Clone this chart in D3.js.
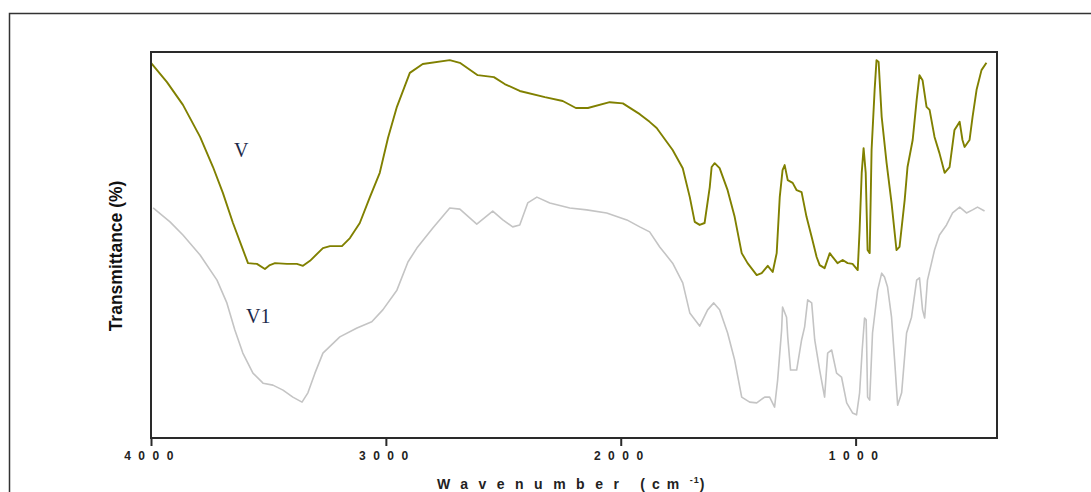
<!DOCTYPE html>
<html><head><meta charset="utf-8">
<script src="https://cdn.jsdelivr.net/npm/d3@7"></script>
<style>
body{margin:0;background:#fff;}
svg{display:block;}
</style></head>
<body>
<svg id="chart" width="1091" height="492"></svg>
<script>
// ---- data ----
const xTicks = [4000, 3000, 2000, 1000];
const seriesNames = ["V", "V1"];
const vWave = [4000,3932,3864,3791,3736,3694,3651,3613,3587,3549,3515,3494,3472,3421,3379,3353,3323,3268,3238,3187,3153,3111,3068,3026,2991,2953,2898,2843,2728,2685,2609,2540,2494,2430,2323,2247,2191,2140,2047,1991,1919,1877,1847,1779,1736,1706,1685,1664,1643,1621,1613,1600,1579,1545,1515,1485,1460,1421,1400,1374,1353,1336,1323,1311,1302,1289,1268,1251,1230,1209,1187,1166,1153,1132,1110,1098,1077,1055,1034,1013,991,983,974,966,957,949,940,932,919,911,902,889,868,847,826,813,791,779,757,740,728,715,698,685,664,643,621,600,579,557,545,536,515,502,485,464,443];
const vT = [97.2,92.2,86.3,78.0,70.2,63.5,55.7,49.5,45.3,45.1,43.8,44.8,45.3,45.1,45.1,44.6,45.9,49.2,49.7,49.7,51.8,55.7,62.4,68.7,77.7,85.8,94.6,96.9,97.9,97.2,94.0,93.5,91.7,89.9,88.3,87.3,85.5,85.5,87.0,86.7,83.9,81.9,80.3,74.6,69.9,62.4,56.0,55.2,55.7,65.0,70.2,71.2,69.9,64.2,57.3,47.9,45.3,42.2,42.7,44.6,43.0,47.9,62.4,69.4,70.7,66.8,66.1,64.2,63.7,57.3,52.1,46.9,44.8,44.0,47.9,46.9,45.3,46.1,45.3,45.1,43.5,53.9,68.7,75.1,68.7,48.7,47.9,74.6,90.2,97.9,97.4,83.2,71.2,60.9,48.7,49.5,61.7,70.2,77.2,87.6,94.0,92.7,85.8,85.0,78.0,73.8,68.7,70.2,79.8,81.9,77.2,75.4,77.2,83.2,90.2,95.3,97.2];
const v1Wave = [3991,3919,3864,3791,3719,3677,3643,3609,3566,3523,3481,3438,3396,3357,3332,3302,3268,3196,3123,3060,3013,2953,2906,2868,2800,2728,2685,2613,2545,2502,2460,2430,2396,2357,2302,2217,2145,2060,1974,1919,1877,1834,1779,1736,1706,1664,1630,1604,1579,1545,1515,1485,1451,1421,1387,1366,1345,1332,1315,1311,1294,1289,1277,1251,1230,1217,1204,1187,1174,1153,1132,1119,1102,1081,1060,1038,1013,996,983,972,962,955,949,940,928,906,889,877,864,847,834,821,804,783,762,740,728,715,706,694,677,664,643,613,587,557,528,502,481,451];
const v1T = [59.6,56.0,52.6,47.4,40.9,35.0,28.0,22.0,16.8,14.2,13.7,12.4,10.6,9.3,11.7,16.8,22.0,26.2,28.5,30.1,33.2,38.3,45.6,49.2,54.4,59.6,59.3,55.4,58.8,56.5,54.7,55.2,60.9,62.4,60.9,59.6,59.1,58.3,56.5,54.7,53.4,49.5,45.3,40.2,32.4,29.0,33.2,35.0,33.2,27.2,20.2,10.6,9.3,9.1,10.6,10.6,8.0,15.0,28.0,33.9,31.3,26.2,17.6,17.6,25.4,28.8,35.8,35.0,25.4,17.6,10.6,22.0,22.8,16.8,15.8,9.1,6.5,6.0,11.7,22.8,31.1,30.6,10.6,9.8,27.2,38.3,42.7,41.7,39.1,31.3,20.2,8.5,11.7,27.2,31.3,40.9,41.5,33.2,31.1,40.9,45.3,48.7,52.6,55.2,58.3,59.8,58.3,59.1,59.8,58.8];

// ---- layout ----
const svg = d3.select("#chart");
const L = 151, R = 997, T = 52, B = 438;
const x = d3.scaleLinear().domain([4000, 398]).range([L, R]);
const y = d3.scaleLinear().domain([0, 100]).range([B, T]);

// outer border (extends beyond the image on right/bottom)
svg.append("rect").attr("x", 9.5).attr("y", 13.5).attr("width", 1200).attr("height", 600)
  .attr("fill", "none").attr("stroke", "#333").attr("stroke-width", 1.5);

// series
const line = d3.line().x(d => x(d[0])).y(d => y(d[1]));
const v1Data = v1Wave.map((w, i) => [w, v1T[i]]);
const vData = vWave.map((w, i) => [w, vT[i]]);
svg.append("path").datum(v1Data).attr("d", line)
  .attr("fill", "none").attr("stroke", "#c4c4c4").attr("stroke-width", 1.6).attr("stroke-linejoin", "round");
svg.append("path").datum(vData).attr("d", line)
  .attr("fill", "none").attr("stroke", "#808000").attr("stroke-width", 1.9).attr("stroke-linejoin", "round");

// frame
svg.append("rect").attr("x", L).attr("y", T).attr("width", R - L).attr("height", B - T)
  .attr("fill", "none").attr("stroke", "#2a2a2a").attr("stroke-width", 2);

// x axis
const xAxis = d3.axisBottom(x).tickValues(xTicks).tickFormat(d3.format("d"))
  .tickSize(8).tickSizeOuter(0).tickPadding(5);
const gx = svg.append("g").attr("transform", `translate(0,${B})`).call(xAxis);
gx.select(".domain").remove();
gx.selectAll(".tick line").attr("stroke", "#2a2a2a").attr("stroke-width", 2);
gx.selectAll(".tick text")
  .attr("font-family", "'Liberation Sans', Arial, sans-serif")
  .attr("font-weight", "bold").attr("font-size", 12)
  .attr("fill", "#222")
  .style("letter-spacing", "7.5px")
  .attr("dx", "1");

// axis titles
const xt = svg.append("text").attr("x", 437).attr("y", 489)
  .attr("font-family", "'Liberation Sans', Arial, sans-serif")
  .attr("font-weight", "bold").attr("font-size", 14).attr("fill", "#222");
xt.append("tspan").style("letter-spacing", "10.5px").text("Wavenumber");
xt.append("tspan").style("letter-spacing", "7px").text(" (cm");
xt.append("tspan").attr("font-size", 9).attr("dy", -6).style("letter-spacing", "1px").text(" -1");
xt.append("tspan").attr("dy", 6).text(")");

svg.append("text")
  .attr("transform", "translate(122,256) rotate(-90)")
  .attr("text-anchor", "middle")
  .attr("font-family", "'Liberation Sans', Arial, sans-serif")
  .attr("font-weight", "bold").attr("font-size", 17.5).attr("fill", "#111")
  .style("letter-spacing", "0px")
  .text("Transmittance (%)");

// series labels
svg.append("text").attr("x", 234).attr("y", 157)
  .attr("font-family", "'Liberation Serif', 'Times New Roman', serif")
  .attr("font-size", 20).attr("fill", "#1c2a4a").text(seriesNames[0]);
svg.append("text").attr("x", 246).attr("y", 323)
  .attr("font-family", "'Liberation Serif', 'Times New Roman', serif")
  .attr("font-size", 20).attr("fill", "#1c2a4a").text(seriesNames[1]);
</script>
</body></html>
